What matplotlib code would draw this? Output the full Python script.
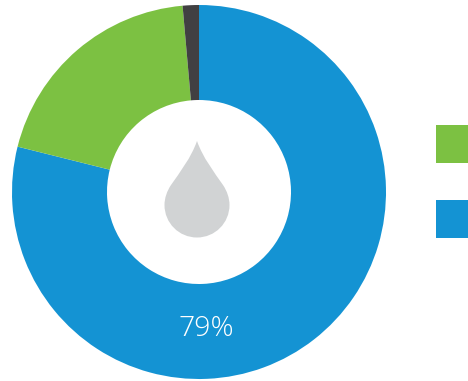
import matplotlib
matplotlib.use('Agg')
from matplotlib import pyplot as plt
from matplotlib.patches import PathPatch, Rectangle
from matplotlib.path import Path

# share of each slice, clockwise from the top
shares = [78.9, 19.7, 1.4]
colors = ['#1493d3', '#7cc142', '#414042']
label_text = '79%'
legend_colors = ['#7cc142', '#1493d3']

W, H = 468, 381
fig = plt.figure(figsize=(W / 100, H / 100), dpi=100)
ax = fig.add_axes([0, 0, 1, 1])

# donut
ax.pie(shares, colors=colors, startangle=90, counterclock=False,
       center=(199, H - 192), radius=187,
       wedgeprops=dict(width=95, linewidth=0))

# water drop in the hole
def py(y):
    return H - y

drop = Path(
    [(197, py(141)),
     (203, py(158)), (214, py(172)), (223, py(185)),
     (227, py(191)), (229.5, py(198)), (229.5, py(205)),
     (229.5, py(223)), (215, py(237.5)), (197, py(237.5)),
     (179, py(237.5)), (164.5, py(223)), (164.5, py(205)),
     (164.5, py(198)), (167, py(191)), (171, py(185)),
     (180, py(172)), (191, py(158)), (197, py(141)),
     (197, py(141))],
    [Path.MOVETO] + [Path.CURVE4] * 18 + [Path.CLOSEPOLY])
ax.add_patch(PathPatch(drop, facecolor='#d1d3d4', edgecolor='none'))

ax.text(206.5, py(328.5), label_text, color='white', fontsize=20.5,
        family=['Open Sans', 'DejaVu Sans'], fontweight='light',
        ha='center', va='center')

# legend squares, cut by the right edge
ax.add_patch(Rectangle((436, py(163)), 32, 38, facecolor=legend_colors[0], edgecolor='none'))
ax.add_patch(Rectangle((436, py(238)), 32, 38, facecolor=legend_colors[1], edgecolor='none'))

ax.set_xlim(0, W)
ax.set_ylim(0, H)
ax.set_aspect('auto')
ax.axis('off')
fig.savefig('out.png', dpi=100, facecolor='white')
